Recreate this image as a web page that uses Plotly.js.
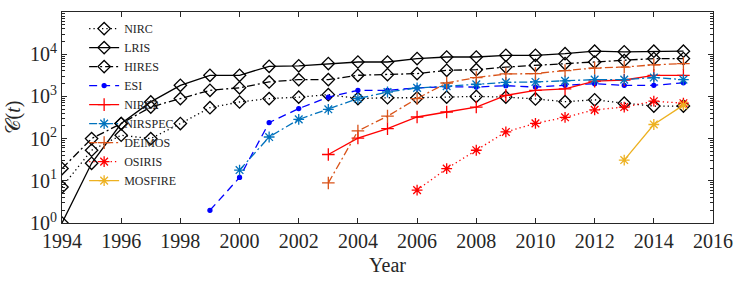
<!DOCTYPE html>
<html>
<head>
<meta charset="utf-8">
<script src="https://cdn.plot.ly/plotly-3.0.1.min.js"></script>
<style>html,body{margin:0;padding:0;background:#fff;}#chart{width:734px;height:282px;}</style>
</head>
<body>
<div id="chart"></div>
<script>
// ---- data ----
var years = [1994,1995,1996,1997,1998,1999,2000,2001,2002,2003,2004,2005,2006,2007,2008,2009,2010,2011,2012,2013,2014,2015];
var NIRC    = [7.1,53,120,100,227,540,737,887,960,1100,890,930,930,960,1000,960,870,750,830,690,590,590];
var LRIS    = [1,26,227,740,1830,3165,3165,5170,5300,6000,6540,6540,7870,8590,8590,9420,9420,10300,11800,11400,11800,11800];
var HIRES   = [19.5,100,227,560,887,1395,1600,2200,2500,2500,3165,3280,3470,4150,4300,4960,5460,6000,6540,7100,7870,7870];
var ESI     = [null,null,null,null,null,2,12,240,515,960,1395,1395,1590,1700,1660,1800,1660,1830,2000,1830,1830,2100];
var NIRC2   = [null,null,null,null,null,null,null,null,null,42,103,172,325,427,560,1060,1395,1500,2300,2450,3165,3165];
var NIRSPEC = [null,null,null,null,null,null,18,109,285,495,890,1270,1590,1740,1940,2150,2200,2330,2500,2500,2800,2500];
var DEIMOS  = [null,null,null,null,null,null,null,null,null,8.9,152,340,890,2080,2800,3400,3470,4100,4700,4960,5600,6000];
var OSIRIS  = [null,null,null,null,null,null,null,null,null,null,null,null,6,19.5,53,144,230,320,480,560,770,690];
var MOSFIRE = [null,null,null,null,null,null,null,null,null,null,null,null,null,null,null,null,null,null,null,31,216,620];

var xTicks = [1994,1996,1998,2000,2002,2004,2006,2008,2010,2012,2014,2016];
var yTickVals = [1,10,100,1000,10000,100000];
var yTickText = ['10<sup>0</sup>','10<sup>1</sup>','10<sup>2</sup>','10<sup>3</sup>','10<sup>4</sup>','10<sup>5</sup>'];

// ---- styles ----
var FONT = 'Liberation Serif, Times New Roman, serif';
var AX = '#262626';
var LW = 1.3;

function tr(name, y, color, dash, symbol, size) {
  return {
    type: 'scatter', mode: 'lines+markers', name: name, x: years, y: y,
    line: {color: color, width: LW, dash: dash},
    marker: {symbol: symbol, size: size, color: color, line: {color: color, width: LW}},
    connectgaps: false
  };
}

var data = [
  tr('NIRC', NIRC, '#000000', '1.3px,3px', 'diamond-open', 9.5),
  tr('LRIS', LRIS, '#000000', 'solid', 'diamond-open', 9.5),
  tr('HIRES', HIRES, '#000000', '8px,3px,2px,3px', 'diamond-open', 9.5),
  tr('ESI', ESI, '#0000FF', '8px,5px', 'circle', 4),
  tr('NIRC2', NIRC2, '#FF0000', 'solid', 'cross-thin-open', 9),
  tr('NIRSPEC', NIRSPEC, '#0072BD', '8px,3px,2px,3px', 'asterisk-open', 9),
  tr('DEIMOS', DEIMOS, '#D95319', '8px,3px,2px,3px', 'cross-thin-open', 9),
  tr('OSIRIS', OSIRIS, '#FF0000', '1.3px,3px', 'asterisk-open', 9),
  tr('MOSFIRE', MOSFIRE, '#EDB120', 'solid', 'asterisk-open', 9)
];

var layout = {
  width: 734, height: 282,
  margin: {l: 62, r: 21, t: 12, b: 59},
  paper_bgcolor: '#ffffff', plot_bgcolor: '#ffffff',
  font: {family: FONT, color: AX},
  showlegend: true,
  legend: {
    x: 0.034, y: 0.99, xanchor: 'left', yanchor: 'top',
    bgcolor: 'rgba(0,0,0,0)', borderwidth: 0,
    font: {family: FONT, size: 12, color: AX},
    tracegroupgap: 0
  },
  xaxis: {
    range: [1994, 2016], tickmode: 'array', tickvals: xTicks,
    ticks: 'inside', ticklen: 5, tickwidth: 1, tickcolor: AX,
    showline: true, mirror: 'ticks', linecolor: AX, linewidth: 1,
    showgrid: false, zeroline: false,
    tickfont: {family: FONT, size: 20, color: AX},
    title: {text: 'Year', font: {family: FONT, size: 20, color: AX}, standoff: 6}
  },
  yaxis: {
    type: 'log', range: [0, 5], tickmode: 'array', tickvals: yTickVals, ticktext: yTickText,
    ticks: 'inside', ticklen: 5, tickwidth: 1, tickcolor: AX,
    minor: {ticks: 'inside', ticklen: 3, tickwidth: 1, tickcolor: AX, dtick: 'D1', showgrid: false},
    showline: true, mirror: 'ticks', linecolor: AX, linewidth: 1,
    showgrid: false, zeroline: false,
    tickfont: {family: FONT, size: 20, color: AX},
    title: {text: '𝒞(<i>t</i>)', font: {family: FONT, size: 20, color: AX}, standoff: 4}
  }
};

Plotly.newPlot('chart', data, layout, {displayModeBar: false, staticPlot: true});
</script>
</body>
</html>
